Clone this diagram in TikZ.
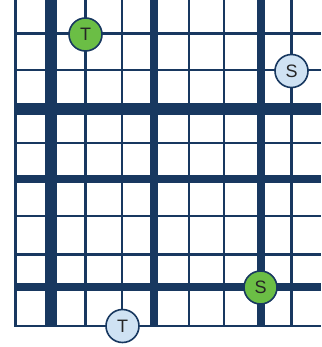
\documentclass[tikz,border=0pt]{standalone}
\usepackage{fontspec}
\setmainfont{Liberation Sans}
\definecolor{navy}{HTML}{183860}
\definecolor{tgreen}{HTML}{6BBE45}
\definecolor{lblue}{HTML}{CFE2F3}
\definecolor{txt}{HTML}{262626}
\tikzset{
  thinline/.style={navy, line width=2.4pt},
  thickline/.style={navy, line width=8pt},
  heavyline/.style={navy, line width=12pt},
  token/.style={circle, draw=navy, line width=1.6pt, minimum size=33pt, inner sep=0pt,
    font=\fontsize{18}{18}\selectfont, text=txt},
  greentok/.style={token, fill=tgreen},
  bluetok/.style={token, fill=lblue}
}
\begin{document}
\begin{tikzpicture}[x=1pt, y=-1pt]
\useasboundingbox (0,0) rectangle (321,347);
% thin vertical lines
\foreach \x in {15.5, 85.5, 122, 189, 224, 291.5}
  \draw[thinline] (\x,0) -- (\x,327);
% thin horizontal lines
\foreach \y in {33.5, 70, 143, 216, 254.5, 326}
  \draw[thinline] (14.3,\y) -- (321,\y);
% heavy / thick lines
\draw[heavyline] (50.5,0) -- (50.5,327);
\draw[thickline] (154,0) -- (154,327);
\draw[thickline] (261,0) -- (261,327);
\draw[heavyline] (14.3,109) -- (321,109);
\draw[thickline] (14.3,179) -- (321,179);
\draw[thickline] (14.3,287) -- (321,287);
% tokens
\node[greentok] (t1) at (85.5,34.5) {T};
\node[bluetok] (s1) at (291.5,71) {S};
\node[bluetok] (t2) at (122.5,326) {T};
\node[greentok] (s2) at (260.5,287.5) {S};
\end{tikzpicture}
\end{document}
